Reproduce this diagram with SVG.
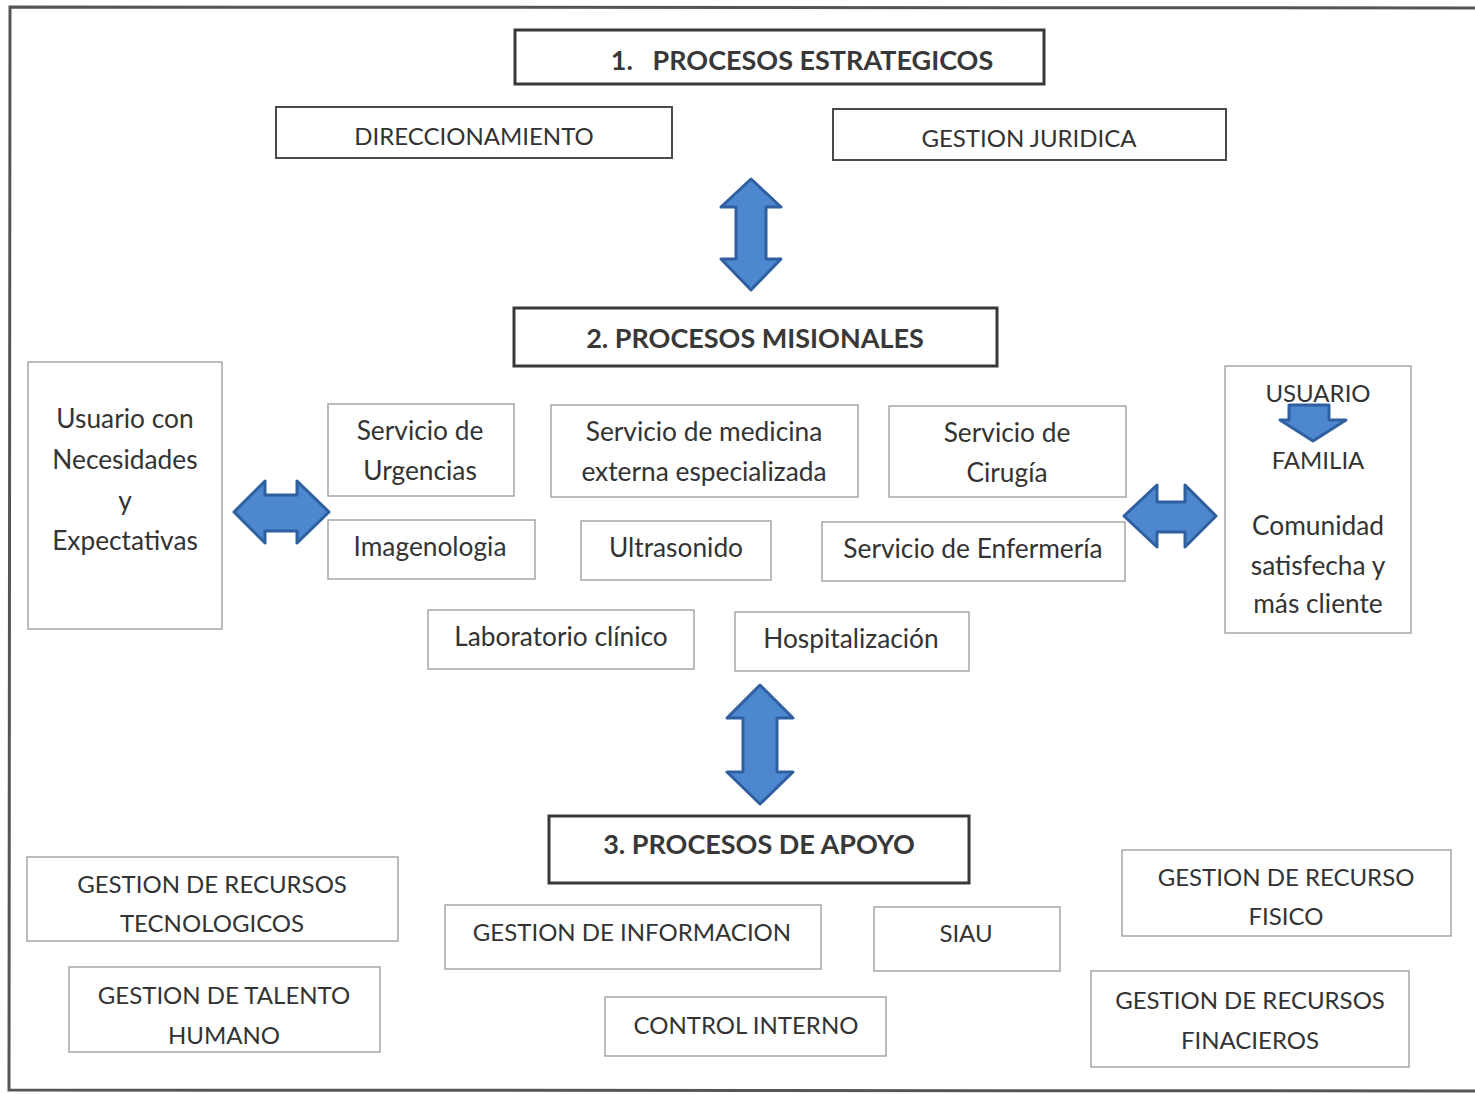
<svg xmlns="http://www.w3.org/2000/svg" width="1475" height="1094" viewBox="0 0 1475 1094">
<style>
text{font-family:Lato,"Open Sans","Liberation Sans",sans-serif;fill:#333;text-anchor:middle;font-size:24px}
.l{font-size:26.3px}
.h{font-weight:bold;font-size:27px;fill:#383838}
.hb{fill:#fff;stroke:#383838;stroke-width:3}
.mb{fill:#fff;stroke:#4a4a4a;stroke-width:2}
.tb{fill:#fff;stroke:#999;stroke-width:1.3}
.arr{fill:#4d87d0;stroke:#2f5f9f;stroke-width:3;stroke-linejoin:round}
</style>
<rect width="1475" height="1094" fill="#fff"/>
<path d="M1475 8 L10 7 L9 1090 L1475 1091" fill="none" stroke="#555" stroke-width="3"/>

<g id="connectors">
<path class="arr" d="M751 179 L781 207 L766 207 L766 259 L781 259 L751 290 L721 259 L736 259 L736 207 L721 207 Z"/>
<path class="arr" d="M760 685 L793 718 L777 718 L777 772 L793 772 L760 804 L727 772 L743 772 L743 718 L727 718 Z"/>
<path class="arr" d="M234 512 L265 481 L265 495 L297 495 L297 481 L329 512 L297 543 L297 531 L265 531 L265 543 Z"/>
<path class="arr" d="M1124 516 L1157 485 L1157 502 L1185 502 L1185 485 L1216 516 L1185 547 L1185 532 L1157 532 L1157 547 Z"/>
</g>

<g id="n1"><rect class="hb" x="515" y="30" width="529" height="54"/><text class="h" x="802" y="70" xml:space="preserve">1.   PROCESOS ESTRATEGICOS</text></g>
<g id="n_dir"><rect class="mb" x="276" y="107" width="396" height="51"/><text x="474" y="145">DIRECCIONAMIENTO</text></g>
<g id="n_jur"><rect class="mb" x="833" y="109" width="393" height="51"/><text x="1029" y="147">GESTION JURIDICA</text></g>

<g id="n2"><rect class="hb" x="514" y="308" width="483" height="58"/><text class="h" x="755" y="348">2. PROCESOS MISIONALES</text></g>

<g id="n_usr"><rect class="tb" x="28" y="362" width="194" height="267"/>
<text class="l" x="125" y="428">Usuario con</text><text class="l" x="125" y="469">Necesidades</text><text class="l" x="125" y="510">y</text><text class="l" x="125" y="550">Expectativas</text></g>

<g id="n_urg"><rect class="tb" x="328" y="404" width="186" height="92"/><text class="l" x="420" y="440">Servicio de</text><text class="l" x="420" y="480">Urgencias</text></g>
<g id="n_med"><rect class="tb" x="551" y="405" width="307" height="92"/><text class="l" x="704" y="441">Servicio de medicina</text><text class="l" x="704" y="481">externa especializada</text></g>
<g id="n_cir"><rect class="tb" x="889" y="406" width="237" height="91"/><text class="l" x="1007" y="442">Servicio de</text><text class="l" x="1007" y="482">Cirugía</text></g>
<g id="n_img"><rect class="tb" x="328" y="520" width="207" height="59"/><text class="l" x="430" y="556">Imagenologia</text></g>
<g id="n_ult"><rect class="tb" x="581" y="521" width="190" height="59"/><text class="l" x="676" y="557">Ultrasonido</text></g>
<g id="n_enf"><rect class="tb" x="822" y="522" width="303" height="59"/><text class="l" x="973" y="558">Servicio de Enfermería</text></g>
<g id="n_lab"><rect class="tb" x="428" y="610" width="266" height="59"/><text class="l" x="561" y="646">Laboratorio clínico</text></g>
<g id="n_hos"><rect class="tb" x="735" y="612" width="234" height="59"/><text class="l" x="851" y="648">Hospitalización</text></g>

<g id="n_fam"><rect class="tb" x="1225" y="366" width="186" height="267"/>
<text x="1318" y="402">USUARIO</text>
<path class="arr" stroke-width="1.5" d="M1289 405 L1329 405 L1329 420 L1346 420 L1313 441 L1280 420 L1289 420 Z"/>
<text x="1318" y="469">FAMILIA</text>
<text class="l" x="1318" y="535">Comunidad</text><text class="l" x="1318" y="575">satisfecha y</text><text class="l" x="1318" y="613">más cliente</text></g>

<g id="n3"><rect class="hb" x="549" y="816" width="420" height="67"/><text class="h" x="759" y="854">3. PROCESOS DE APOYO</text></g>

<g id="n_tec"><rect class="tb" x="27" y="857" width="371" height="84"/><text x="212" y="893">GESTION DE RECURSOS</text><text x="212" y="932">TECNOLOGICOS</text></g>
<g id="n_tal"><rect class="tb" x="69" y="967" width="311" height="85"/><text x="224" y="1004">GESTION DE TALENTO</text><text x="224" y="1044">HUMANO</text></g>
<g id="n_inf"><rect class="tb" x="445" y="905" width="376" height="64"/><text x="632" y="941">GESTION DE INFORMACION</text></g>
<g id="n_siau"><rect class="tb" x="874" y="907" width="186" height="64"/><text x="966" y="942">SIAU</text></g>
<g id="n_ci"><rect class="tb" x="605" y="997" width="281" height="59"/><text x="746" y="1034">CONTROL INTERNO</text></g>
<g id="n_fis"><rect class="tb" x="1122" y="850" width="329" height="86"/><text x="1286" y="886">GESTION DE RECURSO</text><text x="1286" y="925">FISICO</text></g>
<g id="n_fin"><rect class="tb" x="1091" y="971" width="318" height="96"/><text x="1250" y="1009">GESTION DE RECURSOS</text><text x="1250" y="1049">FINACIEROS</text></g>
</svg>
